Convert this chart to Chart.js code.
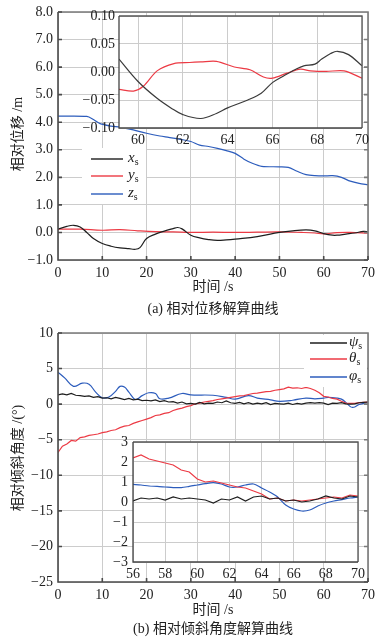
<!DOCTYPE html>
<html lang="zh">
<head>
<meta charset="utf-8" />
<title>相对位移与倾斜角度解算曲线</title>
<style>
  * { margin: 0; padding: 0; }
  body {
    background: #fff;
    width: 392px;
    height: 642px;
    overflow: hidden;
    font-family: "Liberation Serif", "Noto Sans CJK SC", serif;
    color: #222;
  }
  .wrap { position: relative; width: 392px; height: 642px; }
  canvas { position: absolute; }
  .txt { position: absolute; font-size: 14px; white-space: nowrap; line-height: 1; }
  .center { transform: translate(-50%, -50%); }
  .ytitle { transform: translate(-50%, -50%) rotate(-90deg); }
  .sym { position: absolute; font-size: 15px; line-height: 1; white-space: nowrap; transform: translateY(-55%); }
  .sym i { font-style: italic; }
  .sym sub { font-size: 10px; vertical-align: -3px; }
</style>
</head>
<body>
<div class="wrap">
  <canvas id="chartA" width="392" height="290" style="left:0;top:0"></canvas>
  <canvas id="insetA" width="290" height="148" style="left:80px;top:8px"></canvas>
  <canvas id="chartB" width="392" height="290" style="left:0;top:320px"></canvas>
  <canvas id="insetB" width="266" height="152" style="left:100px;top:432px"></canvas>

  <div class="txt ytitle" style="left:18px;top:134px">相对位移 /m</div>
  <div class="txt center" style="left:213px;top:287px">时间 /s</div>
  <div class="txt center" style="left:213px;top:309px">(a) 相对位移解算曲线</div>

  <div class="txt ytitle" style="left:18px;top:458px">相对倾斜角度 /(°)</div>
  <div class="txt center" style="left:213px;top:610px">时间 /s</div>
  <div class="txt center" style="left:213px;top:629px">(b) 相对倾斜角度解算曲线</div>

  <!-- legend labels (swatches are drawn on the canvas) -->
  <span class="sym" style="left:128px;top:159px"><i>x</i><sub>s</sub></span>
  <span class="sym" style="left:128px;top:176px"><i>y</i><sub>s</sub></span>
  <span class="sym" style="left:128px;top:194px"><i>z</i><sub>s</sub></span>

  <span class="sym" style="left:349px;top:343px"><i>ψ</i><sub>s</sub></span>
  <span class="sym" style="left:349px;top:359px"><i>θ</i><sub>s</sub></span>
  <span class="sym" style="left:349px;top:377px"><i>φ</i><sub>s</sub></span>
</div>

<script src="https://cdn.jsdelivr.net/npm/chart.js"></script>
<script>
  // ---- (a) relative displacement, main plot ----
  const xsTime = [0, 2, 3.5, 5, 6.5, 8, 10, 12, 14, 16, 17.5, 18.5, 20, 22, 24, 26, 27, 28, 30, 32, 34, 36, 38, 40, 45, 50, 53, 56, 58, 60, 62, 63, 65, 67, 69, 70];
  const xsVals = [0.12, 0.22, 0.26, 0.2, 0.0, -0.22, -0.4, -0.5, -0.56, -0.59, -0.61, -0.55, -0.22, -0.06, 0.05, 0.14, 0.18, 0.13, -0.1, -0.2, -0.26, -0.29, -0.27, -0.24, -0.15, 0.0, 0.06, 0.09, 0.06, -0.04, -0.1, -0.1, -0.06, -0.02, 0.04, 0.02];

  const ysTime = [0, 5, 10, 14, 18, 22, 26, 30, 35, 40, 45, 50, 55, 58, 60, 63, 66, 70];
  const ysVals = [0.12, 0.12, 0.08, 0.1, 0.06, 0.03, 0.02, 0.0, 0.01, 0.0, 0.01, 0.02, 0.0, -0.02, -0.05, -0.01, 0.0, -0.03];

  const zsTime = [0, 6.5, 8, 9.5, 12, 14, 17, 20, 23, 25, 28, 30, 32, 34, 36, 38, 40, 42, 44, 46, 50, 52, 54, 56, 58, 60, 62, 64, 66, 68, 70];
  const zsVals = [4.22, 4.21, 4.1, 3.95, 3.86, 3.82, 3.72, 3.6, 3.5, 3.45, 3.37, 3.3, 3.17, 3.12, 3.05, 2.97, 2.87, 2.66, 2.5, 2.4, 2.38, 2.36, 2.22, 2.1, 2.06, 2.05, 2.06, 2.0, 1.86, 1.78, 1.73];

  // ---- (a) inset, 59-70 s ----
  const inAxTime = [59.15, 60, 60.85, 61.5, 62, 62.8, 63.5, 64, 64.9, 65.5, 66, 66.5, 67, 67.4, 67.9, 68.2, 68.6, 68.9, 69.4, 70];
  const inAxVals = [0.023, -0.017, -0.047, -0.065, -0.076, -0.083, -0.074, -0.064, -0.05, -0.038, -0.019, -0.007, 0.004, 0.011, 0.014, 0.023, 0.033, 0.037, 0.031, 0.011];
  const inAyTime = [59.15, 59.8, 60.25, 60.85, 61.6, 62.3, 62.8, 63.5, 64.3, 65, 65.6, 66, 66.65, 67.25, 67.7, 68.4, 69.2, 70];
  const inAyVals = [-0.031, -0.034, -0.025, 0.002, 0.015, 0.017, 0.018, 0.019, 0.009, 0.004, -0.009, -0.011, -0.002, 0.005, 0.002, 0.001, 0.002, -0.011];
  const inAxTicks = [60, 62, 64, 66, 68, 70];

  // ---- (b) relative tilt angle, main plot (1 s samples) ----
  const angTime = Array.from({ length: 71 }, (_, i) => i);
  const psiVals = [
    1.30, 1.45, 1.30, 1.50, 1.25, 1.20, 1.10, 1.15, 0.95, 1.05,
    0.85, 0.90, 0.75, 0.95, 0.80, 0.65, 0.80, 0.60, 0.70, 0.50,
    0.55, 0.45, 0.60, 0.35, 0.50, 0.30, 0.35, 0.15, 0.30, 0.05,
    0.10, 0.00, 0.25, 0.05, 0.15, 0.10, 0.30, 0.20, 0.45, 0.20,
    0.10, 0.25, 0.05, 0.20, 0.00, 0.15, 0.05, 0.20, -0.05, 0.10,
    0.05, 0.00, 0.15, -0.05, 0.10, 0.00, 0.15, 0.20, 0.15, 0.20,
    0.15, -0.05, 0.15, 0.10, 0.20, 0.05, 0.00, 0.05, 0.20, 0.25,
    0.30
  ];
  const thetaVals = [
    -6.8, -5.9, -5.6, -5.1, -5.2, -4.7, -4.6, -4.4, -4.3, -4.2,
    -4.0, -3.9, -3.7, -3.6, -3.3, -3.1, -3.0, -2.7, -2.5, -2.3,
    -2.1, -1.9, -1.6, -1.5, -1.3, -1.2, -0.9, -0.7, -0.55, -0.35,
    -0.2, 0.05, 0.15, 0.3, 0.4, 0.5, 0.65, 0.75, 0.85, 0.95,
    1.05, 1.15, 1.2, 1.35, 1.5, 1.55, 1.65, 1.75, 1.8, 1.95,
    2.05, 2.15, 2.4, 2.25, 2.3, 2.2, 2.35, 2.2, 1.95, 1.6,
    1.1, 1.0, 0.8, 0.7, 0.4, 0.15, 0.1, 0.1, 0.2, 0.25,
    0.3
  ];
  const phiTime = [0, 1.5, 3.5, 5.5, 7, 8.5, 10, 11.5, 13, 14, 15, 16, 17.5, 19, 20.5, 22, 23, 25, 28, 30, 35, 38, 40, 43, 45, 48, 50, 53, 56, 58, 60, 61, 63, 64, 65, 66, 66.5, 67, 68, 70];
  const phiVals = [4.5, 3.7, 2.5, 2.95, 2.8, 1.7, 0.9, 1.0, 1.8, 2.5, 2.4, 1.7, 0.65, 1.2, 1.6, 1.5, 0.75, 0.85, 1.5, 1.3, 1.25, 0.95, 0.7, 1.2, 0.85, 0.6, 0.4, 0.55, 0.85, 0.75, 0.85, 0.95, 0.85, 0.7, 0.25, -0.35, -0.45, -0.4, -0.05, 0.25];

  // ---- (b) inset, 56-70 s (0.5 s samples) ----
  const inBTime = Array.from({ length: 29 }, (_, i) => 56 + i * 0.5);
  const inBpsi = [0.05, 0.2, 0.15, 0.2, 0.1, 0.25, 0.15, 0.2, 0.15, 0.1, -0.05, 0.15, 0.1, 0.25, 0.05, 0.25, 0.3, 0.15, 0.2, 0.05, 0.1, 0.0, 0.05, 0.15, 0.3, 0.2, 0.15, 0.3, 0.25];
  const inBtheta = [2.2, 2.35, 2.15, 2.05, 1.95, 1.85, 1.6, 1.5, 1.15, 1.0, 1.05, 0.95, 0.85, 0.75, 0.7, 0.55, 0.4, 0.15, 0.2, 0.05, 0.1, 0.05, 0.1, 0.15, 0.2, 0.25, 0.2, 0.35, 0.3];
  const inBphi = [0.88, 0.85, 0.8, 0.78, 0.75, 0.72, 0.72, 0.78, 0.85, 0.92, 0.97, 0.9, 0.75, 0.75, 0.85, 0.9, 0.7, 0.5, 0.25, -0.15, -0.35, -0.45, -0.4, -0.2, -0.05, 0.05, 0.12, 0.2, 0.25];

  const BLACK = "#1e1e1e";
  const RED = "#ec3a44";
  const BLUE = "#2c5cbc";
  const GRID = "#cccccc";
  const FONT = { family: "'Liberation Serif', serif", size: 14 };

  const pts = (xs, ys) => xs.map((x, i) => ({ x, y: ys[i] }));
  const minus = (s) => s.replace("-", "\u2212");

  function series(data, color, tension) {
    return { data, borderColor: color, borderWidth: 1.2, pointRadius: 0, tension: tension || 0, fill: false };
  }

  // white plot background + frame, optional small inward ticks, optional legend swatches
  const frame = {
    id: "frame",
    beforeDraw(chart) {
      const { ctx, chartArea: { left, top, width, height } } = chart;
      ctx.save();
      ctx.fillStyle = "#fff";
      ctx.fillRect(left, top, width, height);
      ctx.restore();
    },
    afterDatasetsDraw(chart, args, opts) {
      const { ctx, chartArea: { left, top, right, bottom }, scales: { x, y } } = chart;
      ctx.save();
      ctx.lineWidth = opts.width;
      // right + top edges (lighter)
      ctx.strokeStyle = opts.color2;
      ctx.beginPath();
      ctx.moveTo(left, top);
      ctx.lineTo(right, top);
      ctx.lineTo(right, bottom);
      if (opts.ticks) {
        y.ticks.forEach((t) => {
          const py = y.getPixelForValue(t.value);
          ctx.moveTo(right, py);
          ctx.lineTo(right - 4, py);
        });
      }
      ctx.stroke();
      // left + bottom edges (darker)
      ctx.strokeStyle = opts.color;
      ctx.beginPath();
      ctx.moveTo(left, top);
      ctx.lineTo(left, bottom);
      ctx.lineTo(right, bottom);
      if (opts.ticks) {
        y.ticks.forEach((t) => {
          const py = y.getPixelForValue(t.value);
          ctx.moveTo(left, py);
          ctx.lineTo(left + 4, py);
        });
        x.ticks.forEach((t) => {
          const px = x.getPixelForValue(t.value);
          ctx.moveTo(px, bottom);
          ctx.lineTo(px, bottom - 4);
        });
      }
      ctx.stroke();

      // legend box: white patch + line swatches
      const lg = opts.legend;
      if (lg) {
        ctx.fillStyle = "#fff";
        ctx.fillRect(lg.x, lg.y, lg.w, lg.h);
        ctx.lineWidth = 1.4;
        lg.rows.forEach((r) => {
          ctx.strokeStyle = r.color;
          ctx.beginPath();
          ctx.moveTo(lg.x1, r.y);
          ctx.lineTo(lg.x2, r.y);
          ctx.stroke();
        });
      }
      ctx.restore();
    },
  };

  function fixSize(size) {
    return (scale) => {
      if (scale.isHorizontal()) scale.height = size;
      else scale.width = size;
      scale.paddingTop = 0;
      scale.paddingBottom = 0;
      scale.paddingLeft = 0;
      scale.paddingRight = 0;
    };
  }

  function makeChart(id, datasets, o) {
    return new Chart(document.getElementById(id), {
      type: "line",
      data: { datasets },
      options: {
        responsive: false,
        animation: false,
        layout: { padding: o.padding },
        plugins: {
          legend: { display: false },
          tooltip: { enabled: false },
          frame: { color: o.frameColor, color2: o.frameColor2, width: o.frameWidth, ticks: o.frameTicks, legend: o.legend },
        },
        scales: {
          x: {
            type: "linear",
            min: o.xMin,
            max: o.xMax,
            afterFit: fixSize(o.xSize),
            afterBuildTicks: o.xTicks ? (ax) => { ax.ticks = o.xTicks.map((v) => ({ value: v })); } : undefined,
            ticks: { stepSize: o.xStep, padding: o.xPad, color: "#222", font: FONT, maxRotation: 0, autoSkip: false },
            grid: { color: GRID, lineWidth: 1, drawTicks: false },
            border: { display: false },
          },
          y: {
            type: "linear",
            min: o.yMin,
            max: o.yMax,
            afterFit: fixSize(o.ySize),
            ticks: { stepSize: o.yStep, padding: o.yPad, color: "#222", font: FONT, callback: o.yFmt, autoSkip: false },
            grid: { color: GRID, lineWidth: 1, drawTicks: false },
            border: { display: false },
          },
        },
      },
      plugins: [frame],
    });
  }

  makeChart("chartA", [
    series(pts(xsTime, xsVals), BLACK, 0.4),
    series(pts(ysTime, ysVals), RED, 0.4),
    series(pts(zsTime, zsVals), BLUE, 0.3),
  ], {
    padding: { left: 0, right: 24, top: 12, bottom: 8 },
    xMin: 0, xMax: 70, xStep: 10, xSize: 22, xPad: 5,
    yMin: -1, yMax: 8, yStep: 1, ySize: 58, yPad: 5,
    yFmt: (v) => minus(v.toFixed(1)),
    frameColor: "#4a4a4a", frameColor2: "#7a7a7a", frameWidth: 1.6, frameTicks: true,
    legend: {
      x: 82, y: 148, w: 64, h: 56, x1: 91, x2: 123,
      rows: [{ y: 159, color: BLACK }, { y: 176, color: RED }, { y: 194, color: BLUE }],
    },
  });

  makeChart("insetA", [
    series(pts(inAxTime, inAxVals), "#3a3a3a", 0.35),
    series(pts(inAyTime, inAyVals), RED, 0.3),
  ], {
    padding: { left: 0, right: 8, top: 8, bottom: 6 },
    xMin: 59.15, xMax: 70, xTicks: inAxTicks, xSize: 22, xPad: 4,
    yMin: -0.1, yMax: 0.1, yStep: 0.05, ySize: 39, yPad: 4,
    yFmt: (v) => minus(v.toFixed(2)),
    frameColor: "#444", frameColor2: "#555", frameWidth: 1.3, frameTicks: false,
  });

  // chartB canvas sits at page y=320, so legend coords are relative to that
  makeChart("chartB", [
    series(pts(angTime, psiVals), BLACK, 0),
    series(pts(angTime, thetaVals), RED, 0),
    series(pts(phiTime, phiVals), BLUE, 0.4),
  ], {
    padding: { left: 0, right: 24, top: 13, bottom: 6 },
    xMin: 0, xMax: 70, xStep: 10, xSize: 22, xPad: 5,
    yMin: -25, yMax: 10, yStep: 5, ySize: 58, yPad: 5,
    yFmt: (v) => minus(String(v)),
    frameColor: "#4a4a4a", frameColor2: "#7a7a7a", frameWidth: 1.6, frameTicks: true,
    legend: {
      x: 304, y: 15, w: 63, h: 52, x1: 310, x2: 347,
      rows: [{ y: 23, color: BLACK }, { y: 39, color: RED }, { y: 57, color: BLUE }],
    },
  });

  makeChart("insetB", [
    series(pts(inBTime, inBpsi), BLACK, 0),
    series(pts(inBTime, inBtheta), RED, 0),
    series(pts(inBTime, inBphi), BLUE, 0.3),
  ], {
    padding: { left: 0, right: 8, top: 10, bottom: 0 },
    xMin: 56, xMax: 70, xStep: 2, xSize: 22, xPad: 4,
    yMin: -3, yMax: 3, yStep: 1, ySize: 33, yPad: 5,
    yFmt: (v) => minus(String(v)),
    frameColor: "#444", frameColor2: "#555", frameWidth: 1.3, frameTicks: false,
  });
</script>
</body>
</html>
